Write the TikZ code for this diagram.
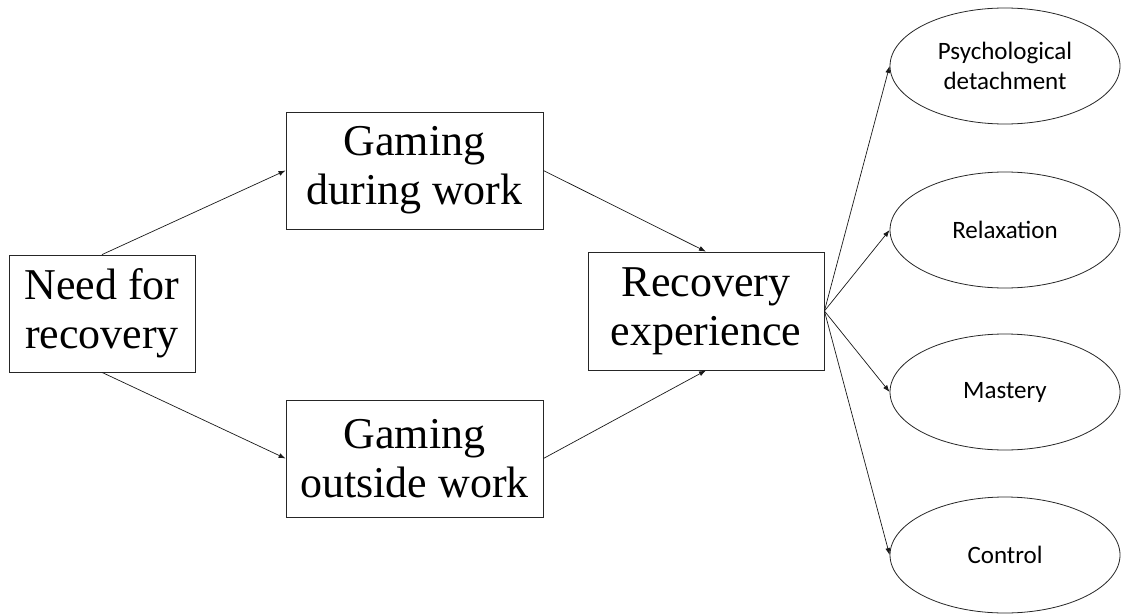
\documentclass[tikz,border=0pt]{standalone}
\usepackage{fontspec}
\setmainfont{Liberation Serif}
\newfontfamily\calib{Carlito}
\usetikzlibrary{shapes.geometric,arrows.meta}
\tikzset{
  stagebox/.style={draw=black!85, line width=0.8pt, rectangle, inner sep=0pt,
    align=center, font=\fontsize{44}{49}\selectfont},
  facet/.style={draw=black!85, line width=0.8pt, ellipse, inner sep=0pt,
    minimum width=230pt, minimum height=116pt, align=center,
    font=\calib\fontsize{25}{30}\selectfont},
  link/.style={draw=black!90, line width=0.7pt, -{Latex[length=7pt,width=5pt]}}
}
\begin{document}
\begin{tikzpicture}[x=1pt, y=-1pt]
  \useasboundingbox (0,0) rectangle (1123,615);
  % main path boxes
  \node[stagebox, minimum width=186pt, minimum height=117pt] (need) at (102,313.5) {Need for\\recovery};
  \node[stagebox, minimum width=257pt, minimum height=117pt] (during) at (414.5,170.5) {Gaming\\during work};
  \node[stagebox, minimum width=257pt, minimum height=117pt] (outside) at (414.5,458.5) {Gaming\\outside work};
  \node[stagebox, minimum width=236pt, minimum height=118pt] (rec) at (706,311) {Recovery\\experience};
  % recovery experience facets
  \node[facet] (psy) at (1005,66) {Psychological\\detachment};
  \node[facet] (rel) at (1005,230) {Relaxation};
  \node[facet] (mas) at (1005,392) {Mastery};
  \node[facet] (con) at (1005,555) {Control};
  % connectors
  \draw[link] (need.north) -- (during.west);
  \draw[link] (need.south) -- (outside.west);
  \draw[link] (during.east) -- (rec.north);
  \draw[link] (outside.east) -- (rec.south);
  \draw[link] (rec.east) -- (psy.west);
  \draw[link] (rec.east) -- (rel.west);
  \draw[link] (rec.east) -- (mas.west);
  \draw[link] (rec.east) -- (con.west);
\end{tikzpicture}
\end{document}
